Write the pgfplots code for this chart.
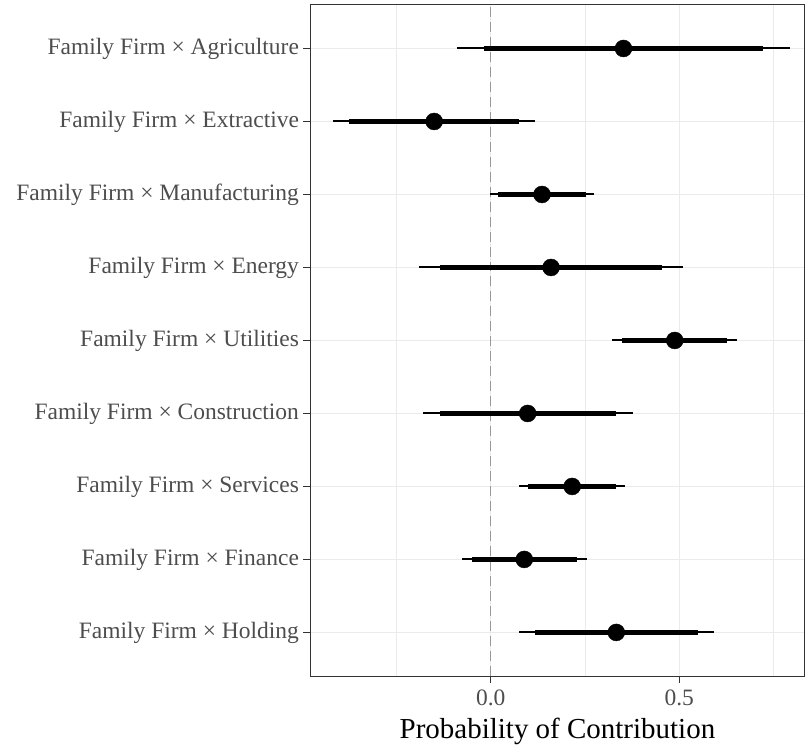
\documentclass[border=0pt]{standalone}
\usepackage{fontspec}
\setmainfont{Liberation Serif}
\usepackage{pgfplots}
\usepackage{pgfplotstable}
\pgfplotsset{compat=1.18}
\definecolor{gridc}{HTML}{EBEBEB}
\definecolor{axc}{HTML}{333333}
\definecolor{tlc}{HTML}{4D4D4D}
\definecolor{refc}{HTML}{999999}
\pgfplotstableread{
y ll l m h hh
9 -0.089 -0.018 0.352 0.722 0.793
8 -0.418 -0.375 -0.150 0.075 0.118
7 -0.003 0.020 0.136 0.252 0.275
6 -0.190 -0.134 0.160 0.454 0.511
5 0.322 0.349 0.488 0.626 0.653
4 -0.179 -0.135 0.098 0.332 0.377
3 0.076 0.099 0.216 0.333 0.355
2 -0.077 -0.050 0.089 0.230 0.255
1 0.075 0.117 0.333 0.550 0.592
}\data
\begin{document}
\begin{tikzpicture}
\begin{axis}[
  scale only axis,
  width=494.3pt, height=672pt,
  xmin=-0.478, xmax=0.832,
  ymin=0.4, ymax=9.6,
  xtick={0,0.5}, xticklabels={0.0,0.5},
  minor xtick={-0.25,0.25,0.75},
  ytick={1,...,9},
  yticklabels={Family Firm × Holding, Family Firm × Finance, Family Firm × Services, Family Firm × Construction, Family Firm × Utilities, Family Firm × Energy, Family Firm × Manufacturing, Family Firm × Extractive, Family Firm × Agriculture},
  xtick pos=bottom, ytick pos=left,
  xmajorgrids, ymajorgrids, xminorgrids,
  major grid style={gridc, line width=1.1pt},
  minor grid style={gridc, line width=0.55pt},
  tick align=outside,
  major tick length=7pt, minor tick length=0pt,
  tick style={axc, line width=1.1pt},
  axis line style={axc, line width=1.1pt},
  ticklabel style={font=\fontsize{23.5}{28}\selectfont, text=tlc},
  yticklabel style={xshift=-1pt},
  xticklabel style={yshift=-3pt},
  xlabel={Probability of Contribution},
  xlabel style={font=\fontsize{29}{34}\selectfont, text=black, yshift=-6pt},
  clip=false,
]
\addplot[refc, dash pattern=on 10pt off 5pt, line width=1.3pt, forget plot] coordinates {(0,0.4) (0,9.6)};
\addplot[only marks, mark=none, forget plot,
  error bars/.cd, x dir=both, x explicit, error mark=none,
  error bar style={draw=black, solid, line width=2pt}]
  table[x=m, y=y, x error plus expr=\thisrow{hh}-\thisrow{m}, x error minus expr=\thisrow{m}-\thisrow{ll}] {\data};
\addplot[only marks, mark=none, forget plot,
  error bars/.cd, x dir=both, x explicit, error mark=none,
  error bar style={draw=black, solid, line width=4.8pt}]
  table[x=m, y=y, x error plus expr=\thisrow{h}-\thisrow{m}, x error minus expr=\thisrow{m}-\thisrow{l}] {\data};
\addplot[only marks, mark=*, mark size=8.5pt, black, mark options={fill=black, draw=black}]
  table[x=m, y=y] {\data};
\end{axis}
\path ([xshift=-310.7pt,yshift=-72.3pt]current axis.south west) rectangle ([yshift=4.7pt]current axis.north east);
\end{tikzpicture}
\end{document}
